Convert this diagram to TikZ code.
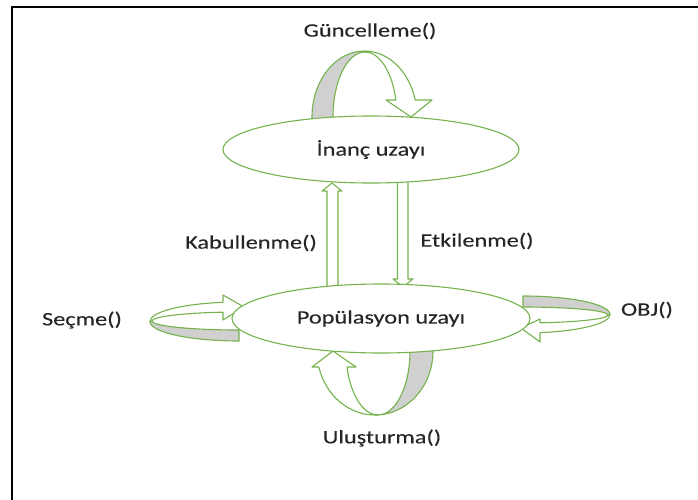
\documentclass[tikz,border=0pt]{standalone}
\usepackage{fontspec}
\setmainfont{Carlito}[FakeStretch=1.28,FakeBold=0.2]
\usetikzlibrary{shapes.geometric}
\definecolor{grn}{HTML}{76B24E}
\definecolor{shade}{HTML}{D0D0D0}
\definecolor{ink}{HTML}{262626}
\begin{document}
\begin{tikzpicture}[x=1pt,y=1pt,
  ribbonline/.style={draw=grn, line width=1.1pt, line join=round},
  ribbonback/.style={ribbonline, fill=shade},
  ribbonfront/.style={ribbonline, fill=white},
  region/.style={ellipse, draw=grn, line width=1.1pt, fill=white, inner sep=0pt,
                 text=ink, font=\fontsize{19}{23}\selectfont},
  lbl/.style={text=ink, font=\fontsize{19}{23}\selectfont, inner sep=0pt}]
\useasboundingbox (0,0) rectangle (698,-500);

% outer frame (open towards right and bottom)
\draw[line width=2.2pt, black] (12,-500) -- (12,-6.7) -- (698,-6.7);

% ---- loop above the belief space: Güncelleme()
\draw[ribbonback] (312,-121) -- (312,-117)
  arc[start angle=180, end angle=90, x radius=52.5, y radius=66]
  -- (365,-52)
  arc[start angle=90, end angle=180, x radius=32, y radius=65]
  -- (333,-121) -- cycle;
\draw[ribbonfront] (364.5,-51)
  arc[start angle=90, end angle=14.9, x radius=52.5, y radius=66]
  -- (432,-100) -- (411,-117) -- (386,-100) -- (395.9,-100)
  arc[start angle=15.2, end angle=90, x radius=32, y radius=65]
  -- cycle;

% ---- loop below the population space: Uluşturma()
\draw[ribbonback] (433,-347) -- (433,-351)
  arc[start angle=0, end angle=-90, x radius=58, y radius=64]
  -- (378,-415)
  arc[start angle=-90, end angle=0, x radius=32, y radius=64]
  -- (410,-347) -- cycle;
\draw[ribbonfront] (375,-415)
  arc[start angle=270, end angle=194.5, x radius=58, y radius=64]
  -- (312,-367) -- (333,-351) -- (356,-367) -- (347,-367)
  arc[start angle=194.5, end angle=270, x radius=32, y radius=64]
  -- cycle;

% ---- loop left of the population space: Seçme()
\draw[ribbonback] (239,-341)
  arc[start angle=270, end angle=180, x radius=89, y radius=19.5]
  -- (152,-321)
  arc[start angle=180, end angle=270, x radius=87, y radius=9]
  -- cycle;
\draw[ribbonfront] (150,-321.5)
  arc[start angle=180, end angle=100.4, x radius=89, y radius=19.5]
  -- (223,-295) -- (244,-307) -- (223,-320) -- (223,-312.2)
  arc[start angle=100.6, end angle=180, x radius=87, y radius=9]
  -- cycle;

% ---- loop right of the population space: OBJ()
\draw[ribbonback] (523,-296)
  arc[start angle=90, end angle=0, x radius=87, y radius=18.5]
  -- (608,-315)
  arc[start angle=0, end angle=90, x radius=85, y radius=8]
  -- cycle;
\draw[ribbonfront] (610,-314.5)
  arc[start angle=0, end angle=-78.7, x radius=87, y radius=18.5]
  -- (540,-342) -- (521,-328) -- (540,-319) -- (540,-322.8)
  arc[start angle=-78.5, end angle=0, x radius=85, y radius=8]
  -- cycle;

% ---- block arrows between the two spaces
\draw[ribbonfront] (327,-290) -- (327,-191) -- (322,-191) -- (332,-183)
  -- (342,-191) -- (338,-191) -- (338,-290) -- cycle;
\draw[ribbonfront] (397.5,-178) -- (397.5,-279) -- (393,-279) -- (403,-287)
  -- (413,-279) -- (408,-279) -- (408,-178) -- cycle;

% ---- the two spaces
\node[region, minimum width=296, minimum height=67] (inanc) at (371,-149.5) {İnanç uzayı};
\node[region, minimum width=298, minimum height=69] (pop) at (381,-318.5) {Popülasyon uzayı};

% ---- operation labels
\node[lbl] (guncelleme) at (370,-31) {Güncelleme()};
\node[lbl] (kabul) at (251,-243) {Kabullenme()};
\node[lbl] (etki) at (477,-241) {Etkilenme()};
\node[lbl] (secme) at (82,-320) {Seçme()};
\node[lbl] (obj) at (647,-310) {OBJ()};
\node[lbl] (olustur) at (382,-438) {Uluşturma()};
\end{tikzpicture}
\end{document}
